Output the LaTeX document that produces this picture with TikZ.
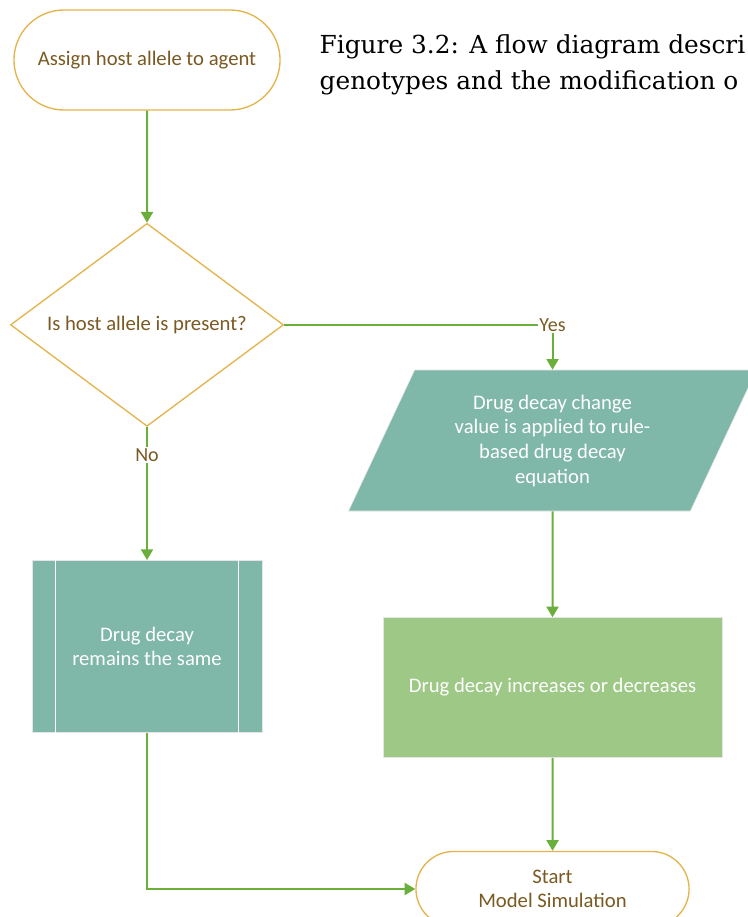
\documentclass[tikz,border=0pt]{standalone}
\usepackage{fontspec}
\setmainfont{Carlito}
\newfontfamily\capfont{DejaVu Serif}
\usetikzlibrary{arrows.meta,positioning,shapes.geometric,shapes.misc}
\definecolor{flowgold}{HTML}{E4B44C}
\definecolor{flowbrown}{HTML}{7A5A22}
\definecolor{flowteal}{HTML}{7FB7A8}
\definecolor{flowleaf}{HTML}{9DC886}
\definecolor{flowarrow}{HTML}{6AAE3B}

\begin{document}
\begin{tikzpicture}[
    x=0.75pt, y=-0.75pt,
    term/.style={draw=flowgold, line width=1pt, rounded rectangle, fill=white,
                 text=flowbrown, align=center, font=\fontsize{15.5}{18.5}\selectfont},
    decide/.style={draw=flowgold, line width=1pt, diamond, aspect=1.345, fill=white, inner sep=0pt,
                   text=flowbrown, align=center, font=\fontsize{15.5}{18.5}\selectfont},
    databox/.style={trapezium, trapezium left angle=64, trapezium right angle=116,
                    trapezium stretches=true, fill=flowteal, draw=gray!20, text=white,
                    align=center, font=\fontsize{15.5}{18.5}\selectfont},
    procbox/.style={rectangle, draw=gray!20, text=white, align=center,
                    font=\fontsize{15.5}{18.5}\selectfont},
    flow/.style={-{Triangle[length=8pt,width=9pt]}, draw=flowarrow, line width=1.5pt},
    tag/.style={fill=white, text=flowbrown, inner sep=1pt, font=\fontsize{15}{17}\selectfont}
  ]
    \useasboundingbox (0,0) rectangle (748,917);
    \clip (0,0) rectangle (748,917);

    \node[term, minimum width=206.25pt, minimum height=75pt] (assign) at (147,60)
      {Assign host allele to agent};
    \node[anchor=west, align=left, font=\capfont\fontsize{18.6}{27}\selectfont] (caption) at (315,65)
      {Figure 3.2: A flow diagram descri\\genotypes and the modification o};
    \node[decide, minimum width=204.75pt, minimum height=152.25pt, below=84pt of assign] (present)
      {Is host allele is present?};
    \node[procbox, fill=flowteal, minimum width=172.5pt, minimum height=129pt,
          below=99.75pt of present] (same) {Drug decay\\remains the same};
    \draw[white, line width=1pt] ([xshift=18pt]same.north west) -- ([xshift=18pt]same.south west);
    \draw[white, line width=1pt] ([xshift=-18pt]same.north east) -- ([xshift=-18pt]same.south east);
    \node[databox, minimum width=306.75pt, minimum height=105.75pt] (applied) at (552.5,440.5)
      {Drug decay change\\value is applied to rule-\\based drug decay\\equation};
    \node[procbox, fill=flowleaf, minimum width=254.25pt, minimum height=105pt,
          below=79.5pt of applied] (shift) {Drug decay increases or decreases};
    \node[term, minimum width=211.5pt, minimum height=56.25pt, below=69.75pt of shift] (sim)
      {Start\\Model Simulation};

    \draw[flow] (assign) -- (present);
    \draw[flow] (present.east) -| node[tag, pos=0.5] {Yes} (applied.north);
    \draw[flow] (present) -- node[tag, pos=0.21] {No} (same);
    \draw[flow] (applied) -- (shift);
    \draw[flow] (shift) -- (sim);
    \draw[flow] (same.south) |- (sim.west);
  \end{tikzpicture}
\end{document}
